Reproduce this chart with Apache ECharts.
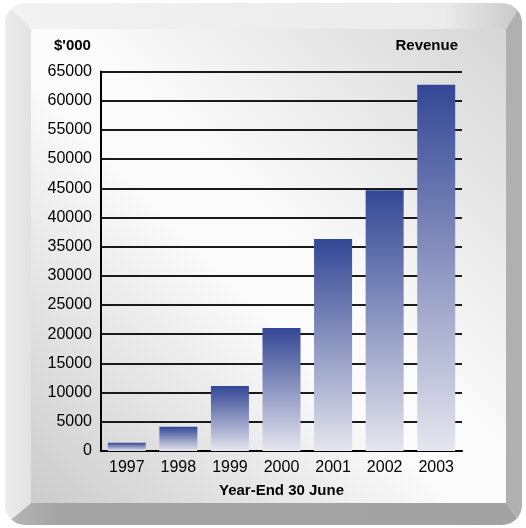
<!DOCTYPE html>
<html>
<head>
<meta charset="utf-8">
<script src="https://cdn.jsdelivr.net/npm/echarts@6/dist/echarts.min.js"></script>
<style>
html,body{margin:0;padding:0;background:#fff;}
#chart{width:526px;height:528px;}
</style>
</head>
<body>
<div id="chart"></div>
<script>
var years = ['1997','1998','1999','2000','2001','2002','2003'];
var revenue = [1420, 4160, 11130, 21080, 36300, 44680, 62710];
var yTicks = {min: 0, max: 65000, interval: 5000};
var unitLabel = "$'000";
var seriesLabel = 'Revenue';
var xTitle = 'Year-End 30 June';

var FONT = "'Liberation Sans', Arial, sans-serif";

// decorative frame
var X0 = 5, Y0 = 3, X1 = 522, Y1 = 525, R = 20;
var IX0 = 31, IY0 = 29, IX1 = 506, IY1 = 503;

function cornerMask(cx, cy, sx, sy) {
  var pts = [[cx, cy]];
  var ax = cx + sx * R, ay = cy + sy * R;
  for (var i = 0; i <= 12; i++) {
    var t = (Math.PI / 2) * i / 12;
    pts.push([ax - sx * R * Math.cos(t), ay - sy * R * Math.sin(t)]);
  }
  return {type: 'polygon', z: -8, shape: {points: pts}, style: {fill: '#ffffff'}, silent: true};
}

var chart = echarts.init(document.getElementById('chart'), null, {renderer: 'canvas'});
chart.setOption({
  animation: false,
  backgroundColor: '#ffffff',
  graphic: [
    {type: 'polygon', z: -10, silent: true, shape: {points: [[X0, Y0], [IX0, IY0], [IX0, IY1], [X0, Y1]]},
     style: {fill: new echarts.graphic.LinearGradient(0, 0, 1, 0, [{offset: 0, color: '#ececec'}, {offset: 1, color: '#e2e2e2'}])}},
    {type: 'polygon', z: -10, silent: true, shape: {points: [[X0, Y0], [X1, Y0], [IX1, IY0], [IX0, IY0]]},
     style: {fill: new echarts.graphic.LinearGradient(0, 0, 1, 0, [{offset: 0, color: '#f2f2f2'}, {offset: 0.85, color: '#ebebeb'}, {offset: 1, color: '#c8c8c8'}])}},
    {type: 'polygon', z: -10, silent: true, shape: {points: [[X1, Y0], [X1, Y1], [IX1, IY1], [IX1, IY0]]},
     style: {fill: '#b0b0b0'}},
    {type: 'polygon', z: -10, silent: true, shape: {points: [[X0, Y1], [IX0, IY1], [IX1, IY1], [X1, Y1]]},
     style: {fill: new echarts.graphic.LinearGradient(0, 0, 1, 0, [{offset: 0, color: '#b8b8b8'}, {offset: 0.1, color: '#a4a4a4'}, {offset: 1, color: '#a2a2a2'}])}},
    {type: 'rect', z: -9, silent: true, shape: {x: IX0, y: IY0, width: IX1 - IX0, height: IY1 - IY0},
     style: {fill: new echarts.graphic.LinearGradient(0, 1, 1, 0, [
       {offset: 0, color: '#cccccc'}, {offset: 0.45, color: '#fbfbfb'}, {offset: 0.55, color: '#fbfbfb'}, {offset: 1, color: '#d6d6d6'}])}},
    cornerMask(X0, Y0, 1, 1),
    cornerMask(X1, Y0, -1, 1),
    cornerMask(X0, Y1, 1, -1),
    cornerMask(X1, Y1, -1, -1),
    {type: 'text', z: 10, left: 54, top: 38, style: {text: unitLabel, font: 'bold 15px ' + FONT, fill: '#000'}},
    {type: 'text', z: 10, right: 68, top: 38, style: {text: seriesLabel, font: 'bold 15px ' + FONT, fill: '#000', textAlign: 'right'}}
  ],
  grid: {left: 101, right: 64, top: 71.5, bottom: 77, containLabel: false},
  xAxis: {
    type: 'category',
    data: years,
    name: xTitle,
    nameLocation: 'middle',
    nameGap: 32,
    nameTextStyle: {fontFamily: FONT, fontWeight: 'bold', fontSize: 15, color: '#000'},
    axisLine: {lineStyle: {color: '#000', width: 2}},
    axisTick: {show: false},
    axisLabel: {fontFamily: FONT, fontSize: 16, color: '#000', margin: 9, interval: 0}
  },
  yAxis: {
    type: 'value',
    min: yTicks.min, max: yTicks.max, interval: yTicks.interval,
    axisLine: {show: true, lineStyle: {color: '#000', width: 2}},
    axisTick: {show: false},
    axisLabel: {fontFamily: FONT, fontSize: 16, color: '#000', margin: 9,
      formatter: function (v) { return String(v); }},
    splitLine: {lineStyle: {color: '#1a1a1a', width: 2}}
  },
  series: [{
    type: 'bar',
    data: revenue,
    barWidth: 38,
    itemStyle: {
      color: new echarts.graphic.LinearGradient(0, 0, 0, 1, [
        {offset: 0, color: '#334795'},
        {offset: 1, color: '#e6e6ee'}
      ])
    }
  }]
});
</script>
</body>
</html>
